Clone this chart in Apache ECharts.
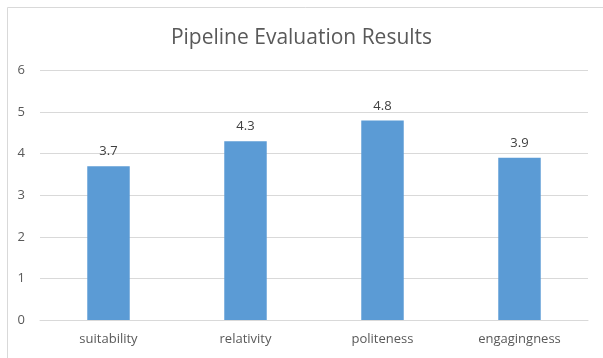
<!DOCTYPE html>
<html>
<head>
<meta charset="utf-8">
<script src="https://cdn.jsdelivr.net/npm/echarts@6/dist/echarts.min.js"></script>
<style>html,body{margin:0;padding:0;background:#fff}#c{width:603px;height:358px}</style>
</head>
<body>
<div id="c"></div>
<script>
var titleText = 'Pipeline Evaluation Results';
var categories = ['suitability', 'relativity', 'politeness', 'engagingness'];
var scores = [3.7, 4.3, 4.8, 3.9];
var yMin = 0, yMax = 6, yInterval = 1;

var font = 'Open Sans, Noto Sans, sans-serif';
var chart = echarts.init(document.getElementById('c'), null, {renderer: 'canvas'});
chart.setOption({
  animation: false,
  backgroundColor: '#fff',
  graphic: [{
    type: 'rect', silent: true,
    shape: {x: 7.5, y: 7.5, width: 620, height: 380},
    style: {fill: 'none', stroke: '#d9d9d9', lineWidth: 1}
  }],
  title: {
    text: titleText, left: 'center', top: 23,
    textStyle: {fontFamily: font, fontSize: 21, fontWeight: 'normal', color: '#595959'}
  },
  grid: {left: 40, right: 15, top: 70.5, bottom: 38, containLabel: false},
  xAxis: {
    type: 'category', data: categories,
    axisLine: {lineStyle: {color: '#d9d9d9'}},
    axisTick: {show: false},
    axisLabel: {fontFamily: font, fontSize: 13, color: '#595959', margin: 13}
  },
  yAxis: {
    type: 'value', min: yMin, max: yMax, interval: yInterval,
    axisLine: {show: false}, axisTick: {show: false},
    splitLine: {lineStyle: {color: '#d9d9d9'}},
    axisLabel: {fontFamily: font, fontSize: 13, color: '#595959', margin: 15}
  },
  series: [{
    type: 'bar', data: scores, barWidth: '31%',
    itemStyle: {color: '#5b9bd5'},
    label: {show: true, position: 'top', distance: 8, fontFamily: font, fontSize: 13, color: '#404040'}
  }]
});
</script>
</body>
</html>
